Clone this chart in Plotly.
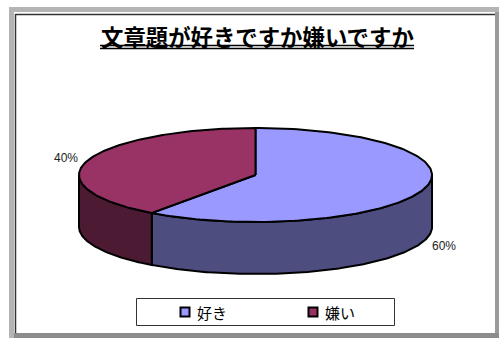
import numpy as np
import plotly.graph_objects as go

# Survey result: do you like word problems?
TITLE = "文章題が好きですか嫌いですか"
categories = ["好き", "嫌い"]
shares = [60, 40]
top_colors = ["#9999FF", "#993366"]
side_colors = ["#4D4D80", "#4D1A33"]

# Ellipse geometry of the tilted disc, in page pixels
CX, CY, RX, RY, DEPTH = 255.5, 175.0, 176.5, 47.0, 52.0
FONT_JP = "Noto Sans CJK JP"


def rim(a0, a1, n=160):
    """Points on the top rim; angles run clockwise from 12 o'clock."""
    t = np.linspace(a0, a1, n)
    return CX + RX * np.sin(t), CY - RY * np.cos(t)


fractions = np.cumsum([0] + shares) / sum(shares) * 2 * np.pi
fig = go.Figure()
outline = dict(color="black", width=2)


def polygon(x, y, color):
    fig.add_trace(go.Scatter(x=x, y=y, mode="lines", fill="toself", fillcolor=color,
                             line=outline, hoverinfo="skip", showlegend=False))


# Visible side walls: only the front half of the rim (90 to 270 degrees) shows depth
for i in range(len(shares)):
    a0 = max(fractions[i], np.pi / 2)
    a1 = min(fractions[i + 1], 3 * np.pi / 2)
    if a1 > a0:
        x, y = rim(a0, a1)
        polygon(np.r_[x, x[::-1], x[0]], np.r_[y, y[::-1] + DEPTH, y[0]], side_colors[i])

# Top faces of the slices
for i in range(len(shares)):
    x, y = rim(fractions[i], fractions[i + 1])
    polygon(np.r_[CX, x, CX], np.r_[CY, y, CY], top_colors[i])

# Percentage labels sit just outside the disc
label_pos = [(443.5, 246), (66, 158)]
for share, (lx, ly) in zip(shares, label_pos):
    fig.add_annotation(x=lx, y=ly, text=f"{share}%", showarrow=False,
                       font=dict(family="Liberation Sans", size=12, color="#222222"))

fig.add_annotation(x=257, y=36, text=f"<b>{TITLE}</b>", showarrow=False,
                   font=dict(family=FONT_JP, size=22.4, color="black"))

# Legend: square keys with their names inside a framed box
legend_x = [185, 313]
fig.add_trace(go.Scatter(x=legend_x, y=[312, 312], mode="markers", hoverinfo="skip",
                         showlegend=False,
                         marker=dict(symbol="square", size=9, color=top_colors,
                                     line=dict(color="black", width=2))))
for name, lx in zip(categories, legend_x):
    fig.add_annotation(x=lx + 9.5, y=312, text=name, showarrow=False, xanchor="left",
                       font=dict(family=FONT_JP, size=15, color="black"))

page_shapes = [
    # Outer grey frame
    dict(type="line", x0=9, x1=499, y0=9.5, y1=9.5, line=dict(color="#B4B4B4", width=5)),
    dict(type="line", x0=11.5, x1=11.5, y0=7, y1=338, line=dict(color="#B4B4B4", width=5)),
    dict(type="line", x0=497, x1=497, y0=12, y1=338, line=dict(color="#9A9A9A", width=4)),
    dict(type="line", x0=14, x1=499, y0=335.5, y1=335.5, line=dict(color="#8C8C8C", width=5)),
    # Inner dark edge, top and left
    dict(type="line", x0=15, x1=495, y0=14.5, y1=14.5, line=dict(color="#333333", width=1.5)),
    dict(type="line", x0=15.5, x1=15.5, y0=14, y1=333, line=dict(color="#333333", width=1.5)),
    # Title underline
    dict(type="line", x0=100, x1=414, y0=45.5, y1=45.5, line=dict(color="black", width=1.5)),
    dict(type="line", x0=100, x1=414, y0=48.5, y1=48.5, line=dict(color="black", width=1.5)),
    # Legend box
    dict(type="rect", x0=136.5, x1=394.5, y0=298.5, y1=325.5, fillcolor="white",
         line=dict(color="#333333", width=1), layer="below"),
]

fig.update_layout(
    width=499, height=338, margin=dict(l=0, r=0, t=0, b=0, pad=0),
    paper_bgcolor="white", plot_bgcolor="white",
    xaxis=dict(range=[0, 499], visible=False, fixedrange=True),
    yaxis=dict(range=[338, 0], visible=False, fixedrange=True),
    shapes=page_shapes,
    showlegend=False,
)

fig.write_html("out.html", config=dict(displayModeBar=False))
